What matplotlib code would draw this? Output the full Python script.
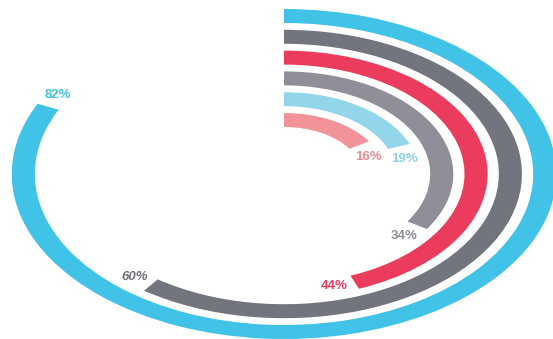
import numpy as np
import matplotlib.pyplot as plt
from matplotlib.patches import Wedge

# ------------------------------------------------------------
# Data (outermost ring first)
# ------------------------------------------------------------

labels = ["82%", "60%", "44%", "34%", "19%", "16%"]
values = [82, 60, 44, 34, 19, 16]
colors = ["#40C3E6", "#72747E", "#EC3C5E", "#8E8F98", "#93D5EA", "#F29299"]
label_colors = ["#40C3E6", "#6E707A", "#EC3C5E", "#8E8F98", "#8BCFE6", "#EE8A90"]

# ------------------------------------------------------------
# Ring geometry (rings are circles, stretched sideways by the axes)
# ------------------------------------------------------------

outer_radius = 165.0
ring_pitch = 20.8
ring_width = 14.0
x_stretch = 1.65
center_px = (284.0, 174.0)
fig_w, fig_h = 553, 339

fig = plt.figure(figsize=(fig_w / 100, fig_h / 100), dpi=100)
ax = fig.add_axes([0, 0, 1, 1])
ax.set_xlim(-center_px[0] / x_stretch, (fig_w - center_px[0]) / x_stretch)
ax.set_ylim(center_px[1] - fig_h, center_px[1])
ax.set_aspect("auto")
ax.axis("off")

for i, (lab, val, col, lcol) in enumerate(zip(labels, values, colors, label_colors)):
    r_out = outer_radius - i * ring_pitch
    end_angle = 90 - 360 * val / 100.0

    # clockwise from 12 o'clock
    ax.add_patch(Wedge((0, 0), r_out, end_angle, 90, width=ring_width,
                       facecolor=col, edgecolor="none"))

    # label sits on the ring path, just past the end of the bar
    r_mid = r_out - ring_width / 2
    a = np.radians(end_angle) - 13.0 / r_mid
    ax.text(r_mid * np.cos(a), r_mid * np.sin(a), lab,
            color=lcol, fontsize=9.5, fontweight="bold",
            fontstyle="italic" if lab == "60%" else "normal",
            family=["Liberation Sans", "DejaVu Sans"],
            ha="center", va="center")

fig.savefig("out.png", dpi=100)
